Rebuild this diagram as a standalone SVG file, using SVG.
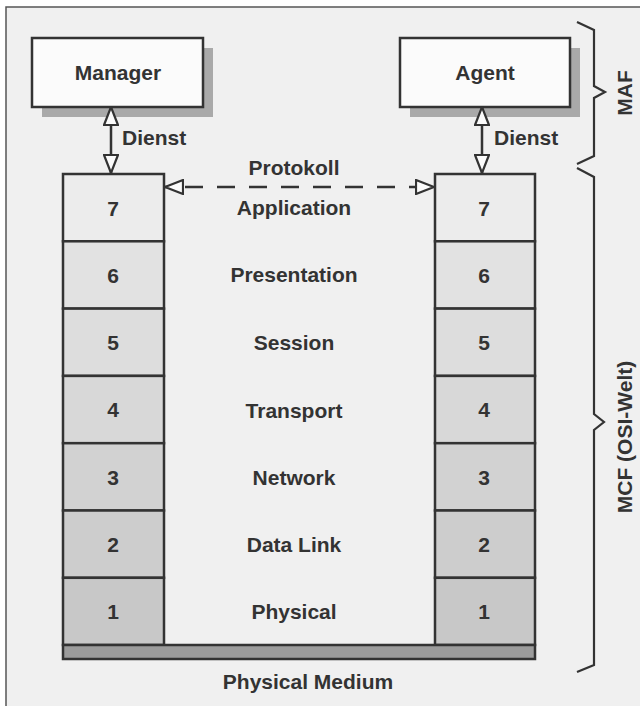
<svg xmlns="http://www.w3.org/2000/svg" width="640" height="706" viewBox="0 0 640 706">
<defs>
<style>
.t{font-family:"Liberation Sans",Arial,sans-serif;font-weight:bold;font-size:21px;fill:#333;}
.m{text-anchor:middle;}
.box{fill:#fbfbfb;stroke:#333;stroke-width:2.5;}
.shadow{fill:#a9a9a9;}
.lay{stroke:#333;stroke-width:2.5;}
.br{fill:none;stroke:#333;stroke-width:2.2;stroke-linejoin:miter;}
.ln{stroke:#333;stroke-width:2.5;fill:none;}
</style>
<marker id="tri" viewBox="0 0 20 16" refX="19" refY="8" markerWidth="20" markerHeight="16" markerUnits="userSpaceOnUse" orient="auto-start-reverse">
<path d="M1,1 L19,8 L1,15 Z" fill="#fbfbfb" stroke="#333" stroke-width="2.2"/>
</marker>
</defs>
<rect x="0" y="0" width="640" height="706" fill="#ffffff"/>
<rect x="6" y="7" width="660" height="720" fill="#f0f0f0" stroke="#555" stroke-width="1.5"/>

<g id="manager">
<rect class="shadow" x="42" y="48" width="171" height="69"/>
<rect class="box" x="32" y="38" width="171" height="69"/>
<text class="t m" x="118" y="80">Manager</text>
</g>
<g id="agent">
<rect class="shadow" x="410" y="48" width="170" height="69"/>
<rect class="box" x="400" y="38" width="170" height="69"/>
<text class="t m" x="485" y="80">Agent</text>
</g>

<g id="stack-left">
<rect class="lay" x="63" y="174" width="101" height="67.3" fill="#ececec"/>
<rect class="lay" x="63" y="241.3" width="101" height="67.3" fill="#e2e2e2"/>
<rect class="lay" x="63" y="308.6" width="101" height="67.3" fill="#dddddd"/>
<rect class="lay" x="63" y="375.9" width="101" height="67.3" fill="#d8d8d8"/>
<rect class="lay" x="63" y="443.2" width="101" height="67.3" fill="#d2d2d2"/>
<rect class="lay" x="63" y="510.5" width="101" height="67.3" fill="#cdcdcd"/>
<rect class="lay" x="63" y="577.8" width="101" height="67.2" fill="#c8c8c8"/>
<text class="t m" x="113" y="216">7</text>
<text class="t m" x="113" y="283">6</text>
<text class="t m" x="113" y="350">5</text>
<text class="t m" x="113" y="417">4</text>
<text class="t m" x="113" y="485">3</text>
<text class="t m" x="113" y="552">2</text>
<text class="t m" x="113" y="619">1</text>
</g>

<g id="stack-right">
<rect class="lay" x="435" y="174" width="100" height="67.3" fill="#ececec"/>
<rect class="lay" x="435" y="241.3" width="100" height="67.3" fill="#e2e2e2"/>
<rect class="lay" x="435" y="308.6" width="100" height="67.3" fill="#dddddd"/>
<rect class="lay" x="435" y="375.9" width="100" height="67.3" fill="#d8d8d8"/>
<rect class="lay" x="435" y="443.2" width="100" height="67.3" fill="#d2d2d2"/>
<rect class="lay" x="435" y="510.5" width="100" height="67.3" fill="#cdcdcd"/>
<rect class="lay" x="435" y="577.8" width="100" height="67.2" fill="#c8c8c8"/>
<text class="t m" x="484" y="216">7</text>
<text class="t m" x="484" y="283">6</text>
<text class="t m" x="484" y="350">5</text>
<text class="t m" x="484" y="417">4</text>
<text class="t m" x="484" y="485">3</text>
<text class="t m" x="484" y="552">2</text>
<text class="t m" x="484" y="619">1</text>
</g>

<g id="layer-names">
<text class="t m" x="294" y="215">Application</text>
<text class="t m" x="294" y="282">Presentation</text>
<text class="t m" x="294" y="350">Session</text>
<text class="t m" x="294" y="418">Transport</text>
<text class="t m" x="294" y="485">Network</text>
<text class="t m" x="294" y="552">Data Link</text>
<text class="t m" x="294" y="619">Physical</text>
</g>

<g id="medium">
<rect class="lay" x="63" y="645" width="472" height="14" fill="#9c9c9c"/>
<text class="t m" x="308" y="689">Physical Medium</text>
</g>

<g id="connectors">
<line class="ln" x1="111" y1="107" x2="111" y2="173" marker-start="url(#tri)" marker-end="url(#tri)"/>
<line class="ln" x1="482" y1="107" x2="482" y2="173" marker-start="url(#tri)" marker-end="url(#tri)"/>
<line class="ln" x1="165" y1="187" x2="434" y2="187" stroke-dasharray="18 14" stroke-dashoffset="-20" marker-start="url(#tri)" marker-end="url(#tri)"/>
<text class="t" x="122" y="145">Dienst</text>
<text class="t" x="494" y="145">Dienst</text>
<text class="t m" x="294" y="175">Protokoll</text>
</g>

<g id="braces">
<path class="br" d="M577,22 L594,30 L594,86 L605,92 L594,98 L594,156 L577,164"/>
<path class="br" d="M577,168 L594,177 L594,414 L604,422 L594,430 L594,665 L577,672"/>
<text class="t m" transform="translate(632,93) rotate(-90)">MAF</text>
<text class="t m" transform="translate(632,437) rotate(-90)">MCF (OSI-Welt)</text>
</g>
</svg>
